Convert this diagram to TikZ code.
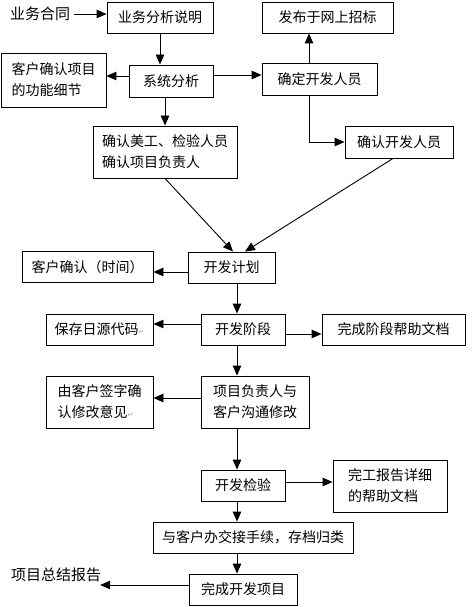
\documentclass[tikz,border=0pt]{standalone}
\usepackage{fontspec}
\newfontfamily\cjk{Noto Sans CJK SC}
\newfontfamily\djv{DejaVu Sans}
\usetikzlibrary{arrows.meta,calc}
\newcommand{\pmark}{{\djv\fontsize{7}{7}\selectfont\color{gray!70}↵}}
\begin{document}
\begin{tikzpicture}[x=1pt,y=-1pt,
  box/.style={draw,line width=0.9pt,align=left,inner sep=0pt,font=\cjk\fontsize{14}{21}\selectfont},
  lbl/.style={inner sep=0pt,font=\cjk\fontsize{15}{21}\selectfont},
  arr/.style={line width=0.9pt,-{Triangle[length=10pt,width=8.5pt]}},
  ln/.style={line width=0.9pt}]
\useasboundingbox (0,0) rectangle (471,607);
\fill[white] (0,0) rectangle (471,607);
% nodes
\node[lbl] (t1) at (40,14) {业务合同};
\node[box,minimum width=106pt,minimum height=31pt] (n1) at (160,17.5) {业务分析说明};
\node[box,minimum width=105pt,minimum height=54pt] (n2) at (53.5,80) {客户确认项目\\的功能细节};
\node[box,minimum width=84pt,minimum height=32pt] (n3) at (171,81) {系统分析};
\node[box,minimum width=131pt,minimum height=31pt] (n4) at (327.5,17.5) {发布于网上招标};
\node[box,minimum width=115pt,minimum height=32pt] (n5) at (319.5,79) {确定开发人员};
\node[box,minimum width=108pt,minimum height=32pt] (n6) at (399,142) {确认开发人员};
\node[box,minimum width=144pt,minimum height=52pt] (n7) at (165,152) {确认美工、检验人员\\确认项目负责人};
\node[box,minimum width=87pt,minimum height=31pt] (n8) at (231.5,267.5) {开发计划};
\node[box,minimum width=131pt,minimum height=31pt] (n9) at (87.5,267) {客户确认（时间）};
\node[box,minimum width=84pt,minimum height=31pt] (n10) at (243,329.5) {开发阶段};
\node[box,minimum width=107pt,minimum height=31pt] (n11) at (99.5,329.5) {保存日源代码\pmark};
\node[box,minimum width=143pt,minimum height=31pt] (n12) at (393.5,329.5) {完成阶段帮助文档};
\node[box,minimum width=108pt,minimum height=52pt] (n13) at (255,402) {项目负责人与\\客户沟通修改};
\node[box,minimum width=107pt,minimum height=52pt] (n14) at (99.5,402) {由客户签字确\\认修改意见\pmark};
\node[box,minimum width=84pt,minimum height=31pt] (n15) at (243,485.5) {开发检验};
\node[box,minimum width=114pt,minimum height=52pt] (n16) at (390,486) {完工报告详细\\的帮助文档};
\node[box,minimum width=200pt,minimum height=31pt] (n17) at (253,537.5) {与客户办交接手续，存档归类};
\node[box,minimum width=108pt,minimum height=31pt] (n18) at (243,589.5) {完成开发项目};
\node[lbl] (t2) at (56,575) {项目总结报告};
% helper coordinates
\coordinate (c1) at ([xshift=4pt]t1.east);
\coordinate (c3l) at ([yshift=5pt]n3.west);
\coordinate (c3r) at ([yshift=6pt]n3.east);
\coordinate (c5b) at ([xshift=-10.5pt]n5.south);
\coordinate (c5t) at ([xshift=-10.5pt]n5.north);
\coordinate (c6b) at ([xshift=-6pt]n6.south);
\coordinate (c8a) at ([xshift=1.5pt]n8.north);
\coordinate (c8b) at ([xshift=13.5pt]n8.north);
\coordinate (c8l) at ([yshift=-4.5pt]n8.west);
\coordinate (c8d) at ([xshift=5.5pt]n8.south);
\coordinate (c10l) at ([yshift=5.5pt]n10.west);
\coordinate (c10r) at ([yshift=-4.5pt]n10.east);
\coordinate (c10d) at ([xshift=-6pt]n10.south);
\coordinate (c13l) at ([yshift=4pt]n13.west);
\coordinate (c13d) at ([xshift=-18pt]n13.south);
\coordinate (c15r) at ([yshift=3.5pt]n15.east);
\coordinate (c15d) at ([xshift=-6pt]n15.south);
\coordinate (c17d) at ([xshift=-16pt]n17.south);
\coordinate (c18l) at ([yshift=4.5pt]n18.west);
% connectors
\draw[arr] (c1) -- (c1 -| n1.west);
\draw[arr] (n1.south) -- (n1.south |- n3.north);
\draw[arr] (c3l) -- (c3l -| n2.east);
\draw[arr] (c3r) -- (c3r -| n5.west);
\draw[arr] (c5t) -- (c5t |- n4.south);
\draw[arr] (c5b) |- (n6.west);
\draw[arr] ([xshift=-6pt]n3.south) -- ([xshift=-6pt]n3.south |- n7.north);
\draw[arr] (n7.south) -- (c8a);
\draw[arr] (c6b) -- (c8b);
\draw[arr] (c8l) -- (c8l -| n9.east);
\draw[arr] (c8d) -- (c8d |- n10.north);
\draw[arr] (c10l) -- (c10l -| n11.east);
\draw[arr] (c10r) -- (c10r -| n12.west);
\draw[arr] (c10d) -- (c10d |- n13.north);
\draw[arr] (c13l) -- (c13l -| n14.east);
\draw[arr] (c13d) -- (c13d |- n15.north);
\draw[arr] (c15r) -- (c15r -| n16.west);
\draw[arr] (c15d) -- (c15d |- n17.north);
\draw[arr] (c17d) -- (c17d |- n18.north);
\draw[arr] (c18l) -- ([xshift=-1pt]c18l -| t2.east);
\end{tikzpicture}
\end{document}
